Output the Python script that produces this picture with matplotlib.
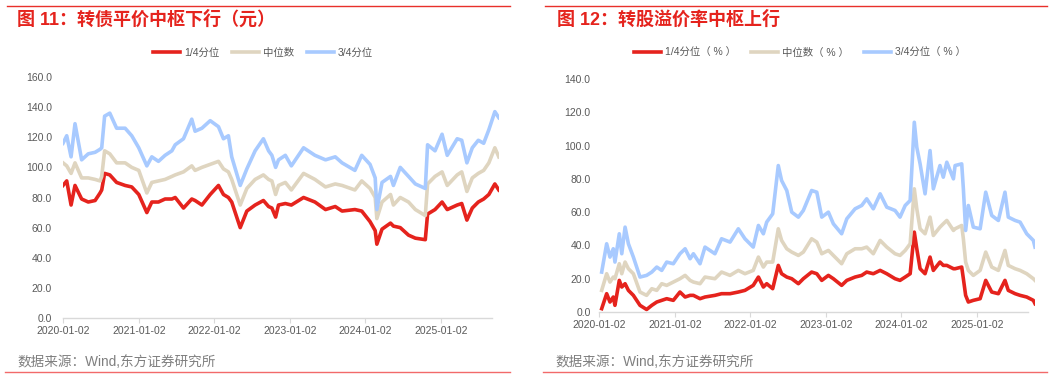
import matplotlib
matplotlib.use('Agg')
import matplotlib.pyplot as plt
import matplotlib.dates as mdates
from matplotlib.lines import Line2D
from matplotlib.ticker import FixedLocator, FormatStrFormatter, MultipleLocator
import pandas as pd

plt.rcParams['font.family'] = ['Liberation Sans', 'Noto Sans CJK SC', 'DejaVu Sans']

# ---- left panel: conversion parity (yuan) ----
parity_dates = [
    '2020-01-02', '2020-01-20', '2020-02-10', '2020-02-29', '2020-04-01', '2020-05-03',
    '2020-06-05', '2020-06-29', '2020-07-07', '2020-07-21', '2020-08-15', '2020-09-17',
    '2020-10-28', '2020-11-29', '2021-01-02', '2021-02-10', '2021-03-06', '2021-04-07',
    '2021-05-09', '2021-06-11', '2021-06-27', '2021-08-06', '2021-09-15', '2021-10-01',
    '2021-11-03', '2021-12-13', '2022-01-22', '2022-02-15', '2022-03-11', '2022-03-27',
    '2022-05-07', '2022-06-08', '2022-07-18', '2022-08-27', '2022-09-21', '2022-10-07',
    '2022-10-25', '2022-11-08', '2022-12-11', '2023-01-09', '2023-03-09', '2023-05-03',
    '2023-06-23', '2023-08-09', '2023-09-11', '2023-11-12', '2023-12-15', '2024-01-24',
    '2024-02-18', '2024-02-26', '2024-03-22', '2024-05-02', '2024-05-16', '2024-06-18',
    '2024-07-28', '2024-08-30', '2024-10-17', '2024-10-28', '2024-12-03', '2025-01-06',
    '2025-01-31', '2025-03-20', '2025-04-11', '2025-05-06', '2025-06-01', '2025-06-30',
    '2025-07-26', '2025-08-20', '2025-09-18', '2025-10-07',
]
parity_q1 = [
    88, 91, 75, 88, 79, 77, 78, 83, 85, 96, 95, 90, 88, 87, 82, 70, 77, 77, 79, 79,
    80, 73, 79, 78, 75, 82, 88, 82, 80, 77, 60, 71, 75, 78, 74, 73, 67, 75, 76, 75,
    80, 77, 72, 74, 71, 72, 71, 64, 58, 49, 59, 63, 61, 60, 55, 53, 52, 69, 72, 77,
    72, 75, 76, 65, 73, 77, 79, 82, 89, 85,
]
parity_med = [
    103, 101, 96, 103, 93, 93, 92, 91, 94, 111, 109, 103, 103, 100, 98, 83, 90, 91, 92, 94,
    95, 97, 101, 98, 100, 102, 104, 99, 97, 92, 75, 86, 92, 95, 92, 91, 82, 88, 90, 85,
    96, 92, 87, 89, 88, 85, 91, 86, 80, 66, 77, 82, 75, 80, 77, 72, 68, 89, 94, 97,
    88, 95, 97, 84, 93, 96, 98, 103, 113, 107,
]
parity_q3 = [
    116, 121, 107, 129, 105, 109, 110, 112, 113, 134, 136, 126, 126, 121, 113, 101, 107, 104, 108, 111,
    115, 119, 132, 124, 126, 131, 127, 119, 121, 107, 88, 99, 111, 119, 111, 108, 100, 105, 108, 101,
    113, 108, 105, 107, 103, 98, 108, 102, 93, 72, 90, 94, 88, 100, 94, 89, 86, 115, 111, 122,
    108, 119, 118, 103, 113, 118, 116, 125, 137, 133,
]

# ---- right panel: conversion premium (%) ----
premium_dates = [
    '2020-01-15', '2020-02-08', '2020-02-24', '2020-03-11', '2020-03-19', '2020-04-09',
    '2020-04-21', '2020-05-07', '2020-05-23', '2020-06-16', '2020-07-18', '2020-08-19',
    '2020-09-13', '2020-10-07', '2020-10-31', '2020-11-24', '2020-12-26', '2021-01-27',
    '2021-02-21', '2021-03-17', '2021-04-02', '2021-05-04', '2021-05-28', '2021-07-15',
    '2021-08-16', '2021-09-26', '2021-11-05', '2021-12-07', '2022-01-16', '2022-02-10',
    '2022-03-06', '2022-03-22', '2022-04-20', '2022-05-17', '2022-06-02', '2022-06-27',
    '2022-07-21', '2022-08-22', '2022-09-15', '2022-10-25', '2022-11-19', '2022-12-13',
    '2023-01-14', '2023-02-07', '2023-03-19', '2023-04-13', '2023-05-23', '2023-06-24',
    '2023-07-18', '2023-08-19', '2023-09-21', '2023-10-23', '2023-12-02', '2023-12-26',
    '2024-01-20', '2024-02-13', '2024-03-04', '2024-03-16', '2024-04-01', '2024-04-25',
    '2024-05-19', '2024-06-04', '2024-07-06', '2024-07-22', '2024-08-08', '2024-09-09',
    '2024-09-17', '2024-10-19', '2024-10-27', '2024-11-07', '2024-11-20', '2024-12-14',
    '2025-01-16', '2025-02-12', '2025-03-13', '2025-04-14', '2025-05-16', '2025-06-01',
    '2025-07-04', '2025-07-28', '2025-08-29', '2025-09-30', '2025-10-08',
]
premium_q1 = [
    2, 11, 6, 9, 4, 19, 15, 17, 13, 10, 4, 1.5, 4, 6, 7, 8, 7, 12, 9, 10,
    10, 8, 9, 10, 11, 11, 12, 13, 16, 21, 15, 17, 14, 28, 23, 21, 20, 17, 20, 24,
    23, 19, 22, 20, 16, 19, 21, 22, 24, 23, 25, 23, 20, 19, 21, 23, 48, 38, 26, 23,
    33, 25, 30, 28, 28, 26, 26, 27, 20, 10, 6, 7, 8, 19, 12, 11, 19, 13, 11, 10,
    9, 7, 5,
]
premium_med = [
    13, 23, 18, 21, 20, 29, 23, 30, 26, 23, 12, 10, 14, 13, 17, 16, 18, 20, 22, 19,
    18, 17, 21, 20, 24, 22, 25, 23, 25, 33, 27, 30, 30, 50, 43, 38, 36, 34, 36, 44,
    42, 35, 37, 34, 29, 35, 38, 38, 39, 35, 43, 39, 35, 34, 37, 41, 74, 62, 50, 47,
    57, 46, 51, 53, 55, 49, 50, 52, 44, 30, 25, 22, 25, 36, 27, 25, 37, 28, 26, 25,
    23, 20, 19,
]
premium_q3 = [
    24, 41, 33, 38, 30, 47, 35, 51, 41, 33, 21, 22, 24, 27, 25, 30, 29, 35, 38, 32,
    35, 29, 39, 35, 44, 42, 50, 44, 39, 52, 47, 54, 59, 88, 79, 73, 60, 57, 61, 73,
    72, 57, 60, 53, 47, 56, 62, 64, 68, 62, 71, 63, 61, 57, 64, 67, 114, 99, 89, 71,
    97, 74, 88, 81, 90, 80, 88, 89, 74, 49, 64, 51, 50, 72, 58, 55, 72, 57, 55, 54,
    47, 43, 39,
]

parity_labels = ['1/4分位', '中位数', '3/4分位']
premium_labels = ['1/4分位（ % ）', '中位数（ % ）', '3/4分位（ % ）']
year_ticks = ['2020-01-02', '2021-01-02', '2022-01-02', '2023-01-02', '2024-01-02', '2025-01-02']

RED = '#e5231d'
TAN = '#dfd5c0'
BLUE = '#a8caff'
GRAY = '#595959'


def draw_panel(fig, rect, dates, series, labels, ymax, ypad, legend_x, colspace):
    ax = fig.add_axes(rect)
    d = pd.to_datetime(dates)
    for vals, col in zip(series, [RED, TAN, BLUE]):
        ax.plot(d, vals, color=col, lw=2.6, solid_joinstyle='round')
    ax.set_xlim(pd.Timestamp('2020-01-02'), pd.Timestamp('2025-10-08'))
    ax.set_ylim(0, ymax)
    ax.xaxis.set_major_locator(FixedLocator(mdates.date2num(pd.to_datetime(year_ticks))))
    ax.xaxis.set_major_formatter(mdates.DateFormatter('%Y-%m-%d'))
    ax.yaxis.set_major_locator(MultipleLocator(20))
    ax.yaxis.set_major_formatter(FormatStrFormatter('%.1f'))
    for s in ['top', 'right', 'left']:
        ax.spines[s].set_visible(False)
    ax.spines['bottom'].set_color('#d9d9d9')
    ax.spines['bottom'].set_linewidth(1.0)
    ax.spines['bottom'].set_bounds(mdates.date2num(pd.Timestamp('2020-01-02')),
                                   mdates.date2num(pd.Timestamp('2025-09-05')))
    ax.tick_params(axis='x', colors='#d9d9d9', labelcolor=GRAY, labelsize=7.5,
                   length=3.5, width=0.8, pad=2.5)
    ax.tick_params(axis='y', length=0, labelcolor=GRAY, labelsize=7.5, pad=ypad)
    handles = [Line2D([], [], color=c, lw=2.6) for c in [RED, TAN, BLUE]]
    fig.legend(handles, labels, loc='center', bbox_to_anchor=(legend_x, 0.860),
               ncol=3, frameon=False, fontsize=7.5, labelcolor=GRAY,
               handlelength=2.6, handletextpad=0.4, columnspacing=colspace)
    return ax


fig = plt.figure(figsize=(10.61, 3.79), dpi=100)

draw_panel(fig, [63 / 1061, 1 - 318 / 379, 436 / 1061, 241 / 379],
           parity_dates, [parity_q1, parity_med, parity_q3], parity_labels,
           160, 8, 263 / 1061, 1.2)
draw_panel(fig, [599 / 1061, 1 - 312 / 379, 436 / 1061, 233 / 379],
           premium_dates, [premium_q1, premium_med, premium_q3], premium_labels,
           140, 6, 800 / 1061, 1.4)

# headers, source notes and red rules
fig.text(17 / 1061, 1 - 20 / 379, '图 11：转债平价中枢下行（元）', color=RED,
         fontsize=13, fontweight='bold', va='center', ha='left')
fig.text(557 / 1061, 1 - 20 / 379, '图 12：转股溢价率中枢上行', color=RED,
         fontsize=13, fontweight='bold', va='center', ha='left')
fig.text(17 / 1061, 1 - 362 / 379, '数据来源：Wind,东方证券研究所', color='#7f7f7f',
         fontsize=9.8, va='center', ha='left')
fig.text(555 / 1061, 1 - 362 / 379, '数据来源：Wind,东方证券研究所', color='#7f7f7f',
         fontsize=9.8, va='center', ha='left')

for x0, x1 in [(7, 510), (545, 1047)]:
    fig.add_artist(Line2D([x0 / 1061, x1 / 1061], [1 - 5.5 / 379] * 2,
                          color='#e8302a', lw=1.0))
for x0, x1 in [(5, 510), (543, 1047)]:
    fig.add_artist(Line2D([x0 / 1061, x1 / 1061], [1 - 372 / 379] * 2,
                          color='#f26a6a', lw=1.0))

fig.savefig('out.png', dpi=100)
